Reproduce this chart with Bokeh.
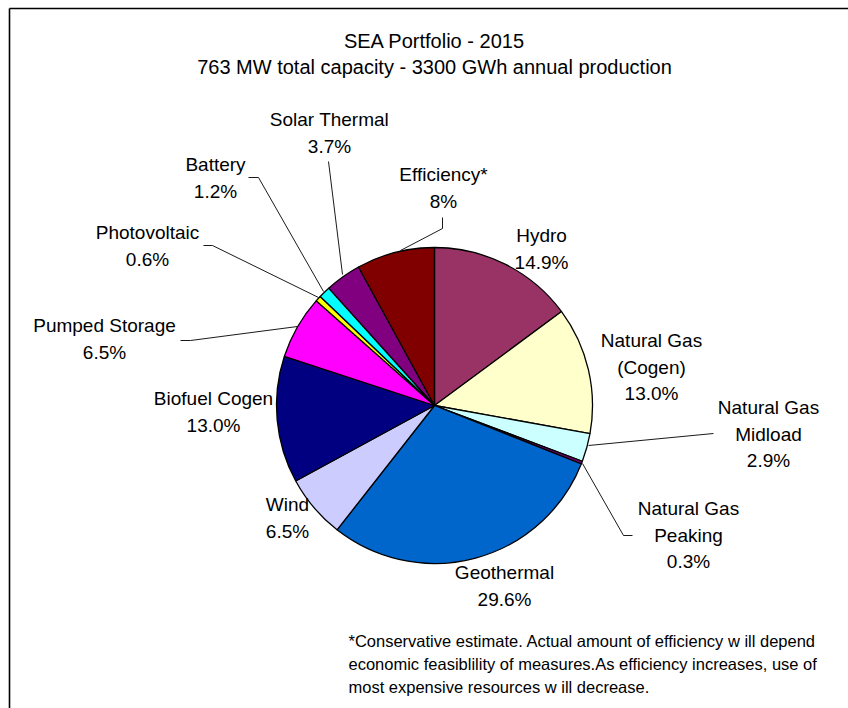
import numpy as np
from bokeh.plotting import figure
from bokeh.models import Range1d, ColumnDataSource
from bokeh.core.properties import value
from bokeh.embed import file_html
from bokeh.resources import INLINE

# ---- data ----
categories = ["Hydro", "Natural Gas (Cogen)", "Natural Gas Midload", "Natural Gas Peaking",
              "Geothermal", "Wind", "Biofuel Cogen", "Pumped Storage", "Photovoltaic",
              "Battery", "Solar Thermal", "Efficiency*"]
shares = [14.9, 13.0, 2.9, 0.3, 29.6, 6.5, 13.0, 6.5, 0.6, 1.2, 3.7, 8.0]
pct_labels = ["14.9%", "13.0%", "2.9%", "0.3%", "29.6%", "6.5%", "13.0%", "6.5%",
              "0.6%", "1.2%", "3.7%", "8%"]
name_lines = [["Hydro"], ["Natural Gas", "(Cogen)"], ["Natural Gas", "Midload"],
              ["Natural Gas", "Peaking"], ["Geothermal"], ["Wind"], ["Biofuel Cogen"],
              ["Pumped Storage"], ["Photovoltaic"], ["Battery"], ["Solar Thermal"],
              ["Efficiency*"]]
colors = ["#993366", "#FFFFCC", "#CCFFFF", "#660066", "#0066CC", "#CCCCFF", "#000080",
          "#FF00FF", "#FFFF00", "#00FFFF", "#800080", "#800000"]
title_lines = ["SEA Portfolio - 2015", "763 MW total capacity - 3300 GWh annual production"]
footnote_lines = ["*Conservative estimate. Actual amount of efficiency w ill depend",
                  "economic feasiblility of measures.As efficiency increases, use of",
                  "most expensive resources w ill decrease."]

# ---- layout (pixel positions, top-left origin) ----
W, H = 848, 708
FONT = value("Liberation Sans")
def Y(py):
    return H - py

cx, cy, R = 434, 405, 158
label_pos = [(541, 235), (651, 340), (768, 407), (688, 508), (504, 572), (287, 504),
             (213, 398), (104, 325), (147, 232), (215, 164), (329, 119), (443, 174)]
line_step = 26.5
leaders = [
    None,
    None,
    [(713, 433), (588, 445)],
    [(632, 535), (623, 535), (582, 463)],
    None,
    None,
    None,
    [(180, 340), (190, 340), (297, 326)],
    [(203, 245), (212, 245), (318, 297)],
    [(248, 177), (258, 177), (323, 291)],
    [(328, 161), (342, 274)],
    [(442, 217), (442, 228), (400, 250)],
]

p = figure(width=W, height=H, x_range=Range1d(0, W), y_range=Range1d(0, H),
           output_backend="svg", toolbar_location=None, min_border=0)
p.axis.visible = False
p.grid.visible = False
p.outline_line_color = None
p.background_fill_color = "white"
p.border_fill_color = "white"

# border of chart area
p.line([9, W + 5], [Y(8), Y(8)], line_color="black", line_width=1.6)
p.line([9, 9], [Y(8), Y(H + 5)], line_color="black", line_width=1.6)

# pie wedges
total = float(sum(shares))
frac = np.array(shares) / total
cum = np.concatenate([[0.0], np.cumsum(frac)])
start = np.pi / 2 - cum[1:] * 2 * np.pi
end = np.pi / 2 - cum[:-1] * 2 * np.pi
src = ColumnDataSource(dict(x=[cx] * len(shares), y=[Y(cy)] * len(shares),
                            start=start, end=end, color=colors, name=categories))
p.wedge(x="x", y="y", radius=R, radius_units="screen", start_angle="start",
        end_angle="end", fill_color="color", line_color="black", line_width=1.3,
        source=src)

# leader lines
for ld in leaders:
    if ld:
        p.line([q[0] for q in ld], [Y(q[1]) for q in ld], line_color="black", line_width=0.9)

# labels
tx, ty, tt = [], [], []
for (lx, ly), names, pct in zip(label_pos, name_lines, pct_labels):
    rows = names + [pct]
    for i, r in enumerate(rows):
        tx.append(lx)
        ty.append(Y(ly + i * line_step))
        tt.append(r)
p.text(tx, ty, text=tt, text_font=FONT, text_font_size="19px", text_color="black",
       text_align="center", text_baseline="middle")

# title
p.text([434, 434], [Y(40), Y(66)], text=title_lines, text_font=FONT,
       text_font_size="20px", text_color="black", text_align="center",
       text_baseline="middle")

# footnote
p.text([348] * 3, [Y(640), Y(663), Y(686)], text=footnote_lines, text_font=FONT,
       text_font_size="16.5px", text_color="black", text_align="left",
       text_baseline="middle")

open("out.html", "w").write(file_html(p, INLINE))
